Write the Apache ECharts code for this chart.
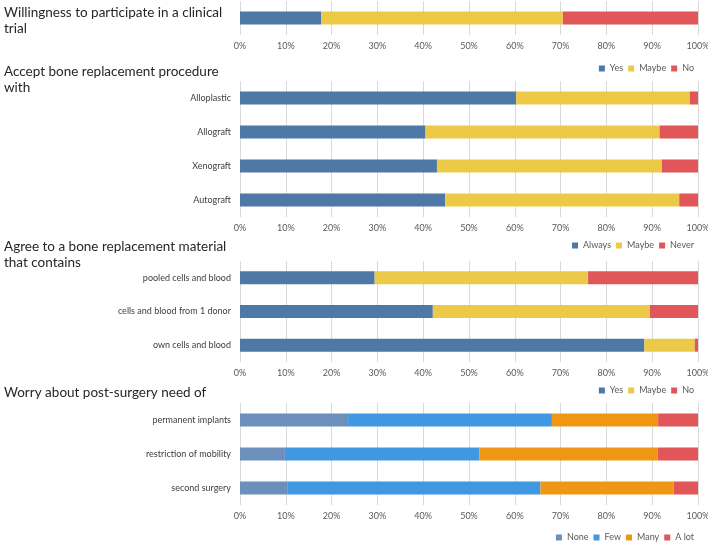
<!DOCTYPE html>
<html>
<head>
<meta charset="utf-8">
<script src="https://cdn.jsdelivr.net/npm/echarts@6/dist/echarts.min.js"></script>
<style>
	html, body { margin: 0; padding: 0; background: #fff; }
	#chart { width: 708px; height: 544px; }
</style>
</head>
<body>
<div id="chart"></div>
<script>
// Chart data (percent of answers)
var ticks = [0, 10, 20, 30, 40, 50, 60, 70, 80, 90, 100];

// Panel 1: willingness to participate
var trialCats = [""];
var trialYes = [17.7];
var trialMaybe = [52.8];
var trialNo = [29.5];

// Panel 2: accept bone replacement procedure with
var procCats = ["Alloplastic", "Allograft", "Xenograft", "Autograft"];
var procAlways = [60.3, 40.5, 43.0, 44.8];
var procMaybe = [37.9, 51.1, 49.1, 51.1];
var procNever = [1.8, 8.4, 7.9, 4.1];

// Panel 3: agree to a material that contains
var matCats = ["pooled cells and blood", "cells and blood from 1 donor", "own cells and blood"];
var matYes = [29.4, 42.1, 88.3];
var matMaybe = [46.6, 47.4, 11.0];
var matNo = [24.0, 10.5, 0.7];

// Panel 4: worry about post-surgery need of
var worryCats = ["permanent implants", "restriction of mobility", "second surgery"];
var worryNone = [23.6, 9.8, 10.3];
var worryFew = [44.5, 42.5, 55.3];
var worryMany = [23.2, 38.9, 29.1];
var worryLot = [8.7, 8.8, 5.3];

// Colours
var blue = "#4e79a7";
var yellow = "#edc948";
var red = "#e15759";
var slate = "#6c8fbb";
var sky = "#4197e2";
var orange = "#ef9714";

var font = "Lato";

// Grid boxes: [top, height]
var boxes = [[1, 34], [81, 136], [261, 101], [403, 102]];

function makeX(i) {
	return {
		gridIndex: i,
		type: "value",
		min: ticks[0],
		max: ticks[ticks.length - 1],
		interval: ticks[1] - ticks[0],
		axisLine: { show: false },
		axisTick: { show: false },
		splitLine: { lineStyle: { color: "#d9d9d9", width: 1 } },
		axisLabel: {
			formatter: "{value}%",
			fontFamily: font,
			fontSize: 9,
			color: "#595959",
			margin: 7
		}
	};
}

function makeY(i, cats) {
	return {
		gridIndex: i,
		type: "category",
		inverse: true,
		data: cats,
		axisLine: { show: false },
		axisTick: { show: false },
		axisLabel: {
			fontFamily: font,
			fontSize: 9,
			color: "#404040",
			margin: 9
		}
	};
}

function makeBar(i, name, values, color) {
	return {
		name: name,
		type: "bar",
		xAxisIndex: i,
		yAxisIndex: i,
		stack: "s" + i,
		barWidth: 13,
		itemStyle: { color: color },
		emphasis: { disabled: true },
		data: values
	};
}

function makeTitle(text, top) {
	return {
		text: text,
		left: 4,
		top: top,
		padding: 0,
		textStyle: {
			fontFamily: font,
			fontSize: 13.5,
			fontWeight: "normal",
			color: "#262626",
			lineHeight: 16
		}
	};
}

function makeLegend(names, top) {
	return {
		data: names,
		right: 14,
		top: top,
		padding: 0,
		itemWidth: 6,
		itemHeight: 6,
		itemGap: 5,
		icon: "rect",
		textStyle: { fontFamily: font, fontSize: 9, color: "#595959" }
	};
}

var chart = echarts.init(document.getElementById("chart"));

var option = {
	animation: false,
	backgroundColor: "#fff",
	title: [
		makeTitle("Willingness to participate in a clinical\ntrial", 5),
		makeTitle("Accept bone replacement procedure\nwith", 64),
		makeTitle("Agree to a bone replacement material\nthat contains", 239),
		makeTitle("Worry about post-surgery need of", 385)
	],
	legend: [
		makeLegend(["Yes", "Maybe", "No"], 64),
		makeLegend(["Always", "Maybe", "Never"], 241),
		makeLegend(["Yes", "Maybe", "No"], 386),
		makeLegend(["None", "Few", "Many", "A lot"], 533)
	],
	grid: boxes.map(function (b) {
		return { left: 240, right: 10, top: b[0], height: b[1], outerBoundsMode: "none" };
	}),
	xAxis: [makeX(0), makeX(1), makeX(2), makeX(3)],
	yAxis: [makeY(0, trialCats), makeY(1, procCats), makeY(2, matCats), makeY(3, worryCats)],
	series: [
		makeBar(0, "Yes", trialYes, blue),
		makeBar(0, "Maybe", trialMaybe, yellow),
		makeBar(0, "No", trialNo, red),

		makeBar(1, "Always", procAlways, blue),
		makeBar(1, "Maybe", procMaybe, yellow),
		makeBar(1, "Never", procNever, red),

		makeBar(2, "Yes", matYes, blue),
		makeBar(2, "Maybe", matMaybe, yellow),
		makeBar(2, "No", matNo, red),

		makeBar(3, "None", worryNone, slate),
		makeBar(3, "Few", worryFew, sky),
		makeBar(3, "Many", worryMany, orange),
		makeBar(3, "A lot", worryLot, red)
	]
};

chart.setOption(option);
</script>
</body>
</html>
